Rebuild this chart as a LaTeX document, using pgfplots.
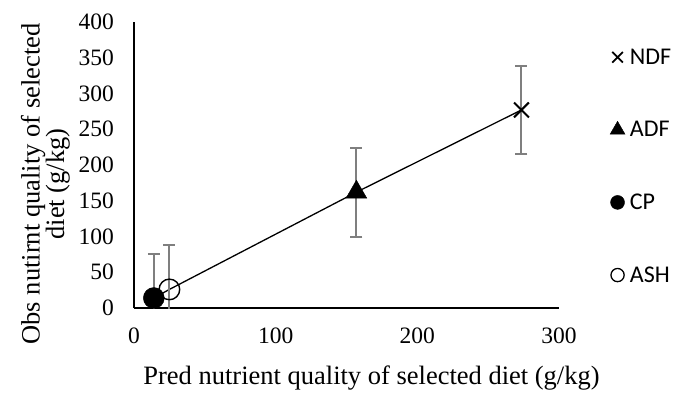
\documentclass[border=0pt]{standalone}
\usepackage{pgfplots}
\pgfplotsset{compat=1.18}
\usepackage{fontspec}
\setmainfont{Liberation Serif}
\newfontfamily\calfont{Carlito}
\definecolor{errgray}{HTML}{7F7F7F}
\begin{document}
\begin{tikzpicture}
\begin{axis}[
  name=ax,
  scale only axis,
  width=425pt, height=286pt,
  xmin=0, xmax=300, ymin=0, ymax=400,
  xtick={0,100,200,300},
  ytick={0,50,...,400},
  axis x line*=bottom, axis y line*=left,
  axis line style={black, line width=1.3pt, -},
  major tick length=0pt,
  tick label style={font=\fontsize{23.5}{27}\selectfont},
  /pgf/number format/assume math mode=true,
  yticklabel style={anchor=east, inner sep=0pt, xshift=-20pt},
  xticklabel style={anchor=north, inner sep=0pt, yshift=-20pt},
  xlabel={Pred nutrient quality of selected diet (g/kg)},
  ylabel={Obs nutirnt quality of selected\\diet (g/kg)},
  every axis x label/.style={at={(axis description cs:0.5588,-0.2692)}, anchor=base, inner sep=0pt,
    font=\fontsize{26.5}{27}\selectfont},
  every axis y label/.style={at={(axis description cs:-0.1506,0.4336)}, rotate=90, anchor=south,
    inner sep=0pt, align=center, font=\fontsize{26.5}{24.5}\selectfont},
  legend image code/.code={\draw[#1] plot coordinates {(0pt,0pt)};},
  legend style={draw=none, fill=none, at={(axis description cs:1.1200,0.907)}, anchor=north west,
    font=\calfont\fontsize{24}{26}\selectfont, row sep=55.6pt, column sep=5pt, inner sep=0pt,
    nodes={inner sep=0pt}},
  legend cell align=left,
]
% connecting line
\addplot[black, line width=1.3pt, forget plot] coordinates {(14,14) (25,26) (157,162) (273.5,277)};
% error bars
\addplot[draw=none, forget plot, mark=none,
  error bars/.cd, y dir=both, y explicit,
  error bar style={errgray, line width=2pt},
  error mark options={rotate=90, mark size=6pt, errgray, line width=2pt}]
  coordinates {(14,14) +- (0,62) (25,26) +- (0,62) (157,162) +- (0,62) (273.5,277) +- (0,62)};
% markers
\addplot[only marks, mark=*, mark size=10.5pt, black, forget plot] coordinates {(14,14)};
\addplot[only marks, mark=o, mark size=10.3pt, black, line width=1.4pt, forget plot] coordinates {(25,26)};
\addplot[only marks, mark=triangle*, mark size=12pt, black, forget plot] coordinates {(157,162)};
\addplot[only marks, mark=x, mark size=10.5pt, black, line width=2pt, forget plot] coordinates {(273.5,277)};
% legend
\addlegendimage{only marks, mark=x, mark size=7.5pt, black, line width=1.8pt}
\addlegendentry{NDF}
\addlegendimage{only marks, mark=triangle*, mark size=8.5pt, black}
\addlegendentry{ADF}
\addlegendimage{only marks, mark=*, mark size=7pt, black}
\addlegendentry{CP}
\addlegendimage{only marks, mark=o, mark size=6.6pt, black, line width=1.3pt}
\addlegendentry{ASH}
\end{axis}
\pgfresetboundingbox
\useasboundingbox (-134pt,-84pt) rectangle (541pt,308pt);
\end{tikzpicture}
\end{document}
